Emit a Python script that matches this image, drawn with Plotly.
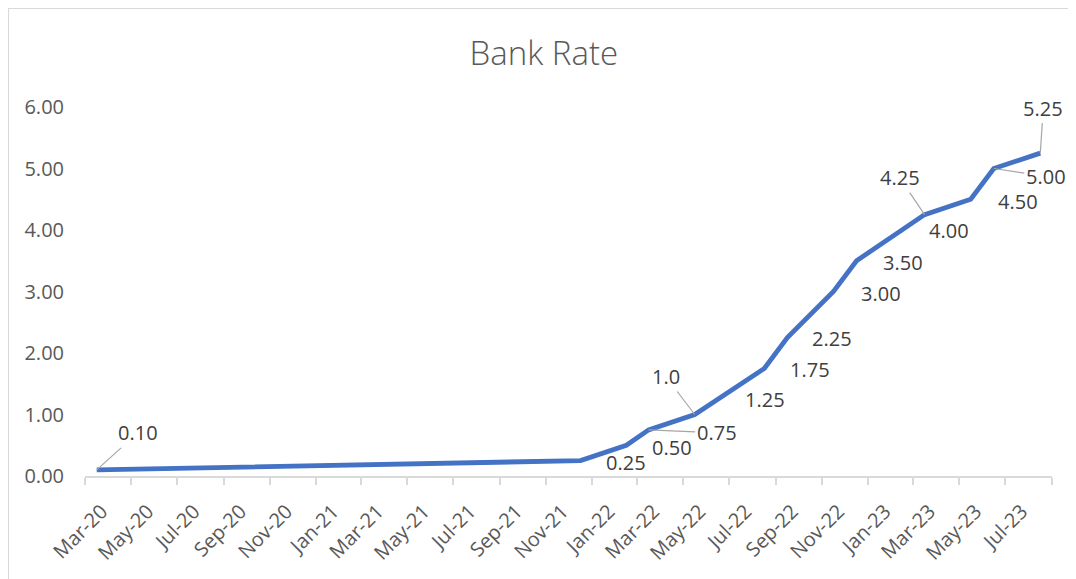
import pandas as pd
import plotly.graph_objects as go

# Data: month of each Bank Rate change and the rate (%)
months = ["2020-03", "2021-12", "2022-02", "2022-03", "2022-05", "2022-06",
          "2022-08", "2022-09", "2022-11", "2022-12", "2023-02", "2023-03",
          "2023-05", "2023-06", "2023-08"]
rates = [0.10, 0.25, 0.50, 0.75, 1.00, 1.25, 1.75, 2.25, 3.00, 3.50,
         4.00, 4.25, 4.50, 5.00, 5.25]
label_texts = ["0.10", "0.25", "0.50", "0.75", "1.0", "1.25", "1.75", "2.25",
               "3.00", "3.50", "4.00", "4.25", "4.50", "5.00", "5.25"]
y_ticks = [0, 1, 2, 3, 4, 5, 6]
y_tick_text = ["0.00", "1.00", "2.00", "3.00", "4.00", "5.00", "6.00"]
axis_start, axis_end = "2020-03", "2023-09"

def mid_month(m):
    p = pd.Period(m, freq="M")
    return p.start_time + (p.end_time - p.start_time) / 2

x_pts = [mid_month(m) for m in months]

# month-based axis: labels every 2 months at month centres, tick marks at boundaries
label_periods = pd.period_range(axis_start, "2023-07", freq="2M")
tick_vals = [mid_month(str(p)) for p in label_periods]
tick_text = [p.strftime("%b-%y") for p in label_periods]
boundaries = [p.start_time for p in pd.period_range(axis_start, axis_end, freq="2M")]

fig = go.Figure()
fig.add_trace(go.Scatter(
    x=x_pts, y=rates, mode="lines",
    line=dict(color="#4472C4", width=4.8), hoverinfo="skip", showlegend=False,
))

# label placement (pixel offsets) and whether it uses a leader line
offsets = [(41, -37, True), (45, 2, False), (46, 2, False), (68, 3, True),
           (-29, -38, True), (47, 0, False), (46, 1, False), (45, 1, False),
           (47, 2, False), (46, 2, False), (47, 0, False), (-25, -37, True),
           (47, 2, False), (52, 8, True), (3, -45, True)]

lab_font = dict(family="Open Sans", size=20, color="#404040")
for xv, yv, txt, (dx, dy, lead) in zip(x_pts, rates, label_texts, offsets):
    if lead:
        fig.add_annotation(x=xv, y=yv, text=txt, showarrow=True, arrowhead=0,
                           arrowwidth=1.2, arrowcolor="#A6A6A6", ax=dx, ay=dy,
                           standoff=0, font=lab_font)
    else:
        fig.add_annotation(x=xv, y=yv, text=txt, showarrow=False,
                           xshift=dx, yshift=-dy, font=lab_font)

# page has an 8px body margin; positions below are in figure pixels
L, R, T, B = 77, 32, 99, 111
W, H = 1076, 579
pw, ph = W - L - R, H - T - B
# outer chart border
fig.add_shape(type="rect", xref="paper", yref="paper",
              x0=(0.5 - L) / pw, x1=(1063 - L) / pw,
              y0=(H - B - 575) / ph, y1=(H - B - 0.5) / ph,
              line=dict(color="#D9D9D9", width=1.2), fillcolor="rgba(0,0,0,0)", layer="below")

fig.update_layout(
    width=W, height=H,
    margin=dict(l=L, r=R, t=T, b=B),
    paper_bgcolor="white", plot_bgcolor="white",
    title=dict(text="Bank Rate", x=0.498, xanchor="center", y=1 - 45 / H, yanchor="middle",
               font=dict(family="Open Sans", size=33, color="#595959", weight=300)),
    xaxis=dict(
        type="date",
        range=[pd.Period(axis_start, freq="M").start_time, pd.Period(axis_end, freq="M").start_time],
        tickmode="array", tickvals=tick_vals, ticktext=tick_text, tickangle=-45,
        ticks="", showgrid=False, zeroline=False,
        showline=True, linecolor="#D9D9D9", linewidth=1.5,
        ticklabelstandoff=14, ticklabelshift=5,
        tickfont=dict(family="Open Sans", size=20, color="#595959"),
        minor=dict(tickmode="array", tickvals=boundaries, ticks="outside", ticklen=7,
                   tickcolor="#D9D9D9", tickwidth=1.5, showgrid=False),
    ),
    yaxis=dict(
        range=[0, 6], tickmode="array", tickvals=y_ticks, ticktext=y_tick_text,
        showgrid=False, zeroline=False, showline=False, ticks="",
        tickfont=dict(family="Open Sans", size=20, color="#595959"),
        ticklabelstandoff=20,
    ),
)

fig.write_html("out.html")
